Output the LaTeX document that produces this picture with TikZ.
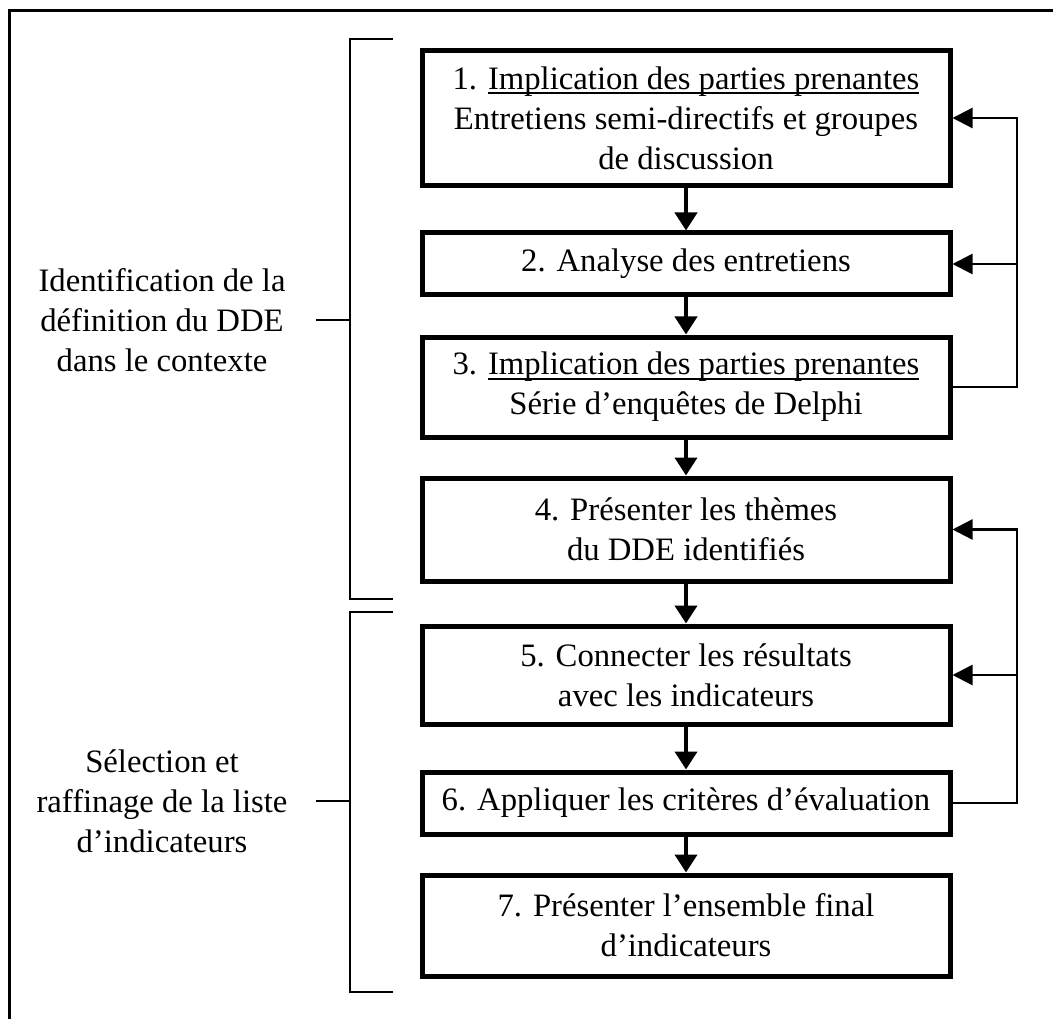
\documentclass[tikz,border=0pt]{standalone}
\usepackage{fontspec}
\setmainfont{Liberation Serif}
\usetikzlibrary{arrows.meta}

% underline drawn just under the baseline
\newcommand\soulign[1]{\setbox0\hbox{#1}\rlap{\rule[-5pt]{\wd0}{1.8pt}}\box0}

\begin{document}
\begin{tikzpicture}[x=1pt,y=-1pt,
  txt/.style={font=\fontsize{32.7}{40}\selectfont, align=center},
  stepbox/.style={txt, draw, line width=5pt, minimum width=528pt, inner sep=0pt},
  flow/.style={line width=4pt, -{Triangle[length=18pt,width=22pt]}},
  back/.style={line width=2.4pt},
  backarrow/.style={back, -{Triangle[length=20pt,width=20pt]}},
  brk/.style={line width=2.4pt}]

\useasboundingbox (0,0) rectangle (1053,1019);

% frame
\draw[line width=3pt] (1053,11) -- (9,11) -- (9,1019);

% steps
\node[stepbox, minimum height=135pt] (b1) at (686,118)
  {1. \soulign{Implication des parties prenantes}\\Entretiens semi-directifs et groupes\\de discussion};
\node[stepbox, minimum height=62pt] (b2) at (686,264) {2. Analyse des entretiens};
\node[stepbox, minimum height=100pt] (b3) at (686,387)
  {3. \soulign{Implication des parties prenantes}\\Série d’enquêtes de Delphi};
\node[stepbox, minimum height=103pt] (b4) at (686,529.5) {4. Présenter les thèmes\\du DDE identifiés};
\node[stepbox, minimum height=98pt] (b5) at (686,675) {5. Connecter les résultats\\avec les indicateurs};
\node[stepbox, minimum height=62pt] (b6) at (686,803) {6. Appliquer les critères d’évaluation};
\node[stepbox, minimum height=101pt] (b7) at (686,925.5) {7. Présenter l’ensemble final\\d’indicateurs};

% sequence
\draw[flow] (b1) -- (b2);
\draw[flow] (b2) -- (b3);
\draw[flow] (b3) -- (b4);
\draw[flow] (b4) -- (b5);
\draw[flow] (b5) -- (b6);
\draw[flow] (b6) -- (b7);

% feedback loops
\coordinate (rx) at (1017,0);
\draw[backarrow] (b3.east) -- (b3.east -| rx) |- (b1.east);
\draw[backarrow] (b2.east -| rx) -- (b2.east);
\draw[backarrow] (b6.east) -- (b6.east -| rx) |- (b4.east);
\draw[backarrow] (b5.east -| rx) -- (b5.east);

% phase brackets
\draw[brk] (393,39) -- (350,39) -- (350,599) -- (393,599);
\draw[brk] (316,320) -- (350,320);
\draw[brk] (393,612) -- (350,612) -- (350,992) -- (393,992);
\draw[brk] (316,801) -- (350,801);

% phase labels
\node[txt] (p1) at (162,320) {Identification de la\\définition du DDE\\dans le contexte};
\node[txt] (p2) at (162,801) {Sélection et\\raffinage de la liste\\d’indicateurs};

\end{tikzpicture}
\end{document}
